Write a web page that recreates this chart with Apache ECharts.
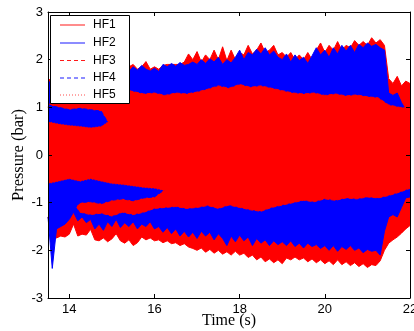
<!DOCTYPE html>
<html>
<head>
<meta charset="utf-8">
<script src="https://cdn.jsdelivr.net/npm/echarts@6/dist/echarts.min.js"></script>
<style>
html,body{margin:0;padding:0;background:#fff;}
#chart{width:414px;height:331px;}
</style>
</head>
<body>
<div id="chart"></div>
<script>
// ---- data (envelopes of each pressure trace) ----
const seriesNames = ['HF1', 'HF2', 'HF3', 'HF4', 'HF5'];
const xTickValues = [14, 16, 18, 20, 22];
const yTickValues = [-3, -2, -1, 0, 1, 2, 3];

// sample times: fine grid (0.1 s) and coarse grid (0.25 s), 13.5 s .. 22 s
const fineStart = 13.5, fineStep = 0.1, fineCount = 86;
const coarseStart = 13.5, coarseStep = 0.25, coarseCount = 35;

const hf1Upper = [1.6,1.55,1.5,1.5,1.45, 1.5,1.45,1.5,1.5,1.55, 1.55,1.6,1.6,1.65,1.6, 1.7,1.7,1.75,1.8,1.85,
  1.9,1.8,1.85,1.96,1.8, 1.85,1.8,1.88,1.9,1.9, 1.9,1.9,1.95,2.12,2.0, 2.17,1.95,2.1,2.0,2.2,
  2.0,2.27,1.98,2.2,2.0, 2.15,2.1,2.3,2.12,2.2, 2.35,2.15,2.2,2.3,2.1, 2.15,2.05,2.15,2.0,2.1,
  2.0,2.15,2.0,2.2,2.35, 2.15,2.3,2.2,2.38,2.2, 2.3,2.25,2.4,2.3,2.38, 2.3,2.46,2.35,2.42,2.3,
  1.6,1.5,1.65,1.45,1.55,1.5];
const hf1Lower = [-1.3,-1.72,-1.74,-1.7,-1.72, -1.66,-1.45,-1.7,-1.66,-1.68, -1.56,-1.78,-1.8,-1.74,-1.82, -1.76,-1.65,-1.8,-1.85,-1.78,
  -1.9,-1.84,-1.72,-1.78,-1.74, -1.8,-1.78,-1.84,-1.8,-1.86, -1.84,-1.9,-1.86,-1.93,-1.96, -2.0,-1.95,-2.04,-1.98,-2.06,
  -2.0,-2.08,-2.03,-2.1,-2.02, -2.1,-2.06,-2.15,-2.1,-2.2, -2.14,-2.24,-2.18,-2.26,-2.2, -2.28,-2.16,-2.2,-2.14,-2.2,
  -2.16,-2.24,-2.18,-2.26,-2.2, -2.28,-2.22,-2.3,-2.2,-2.3, -2.24,-2.32,-2.26,-2.34,-2.28, -2.36,-2.3,-2.32,-2.22,-2.0,
  -1.85,-1.78,-1.72,-1.64,-1.55,-1.48];
const hf2Upper = [1.55,1.5,1.35,1.4,1.3, 1.35,1.3,1.4,1.35,1.45, 1.4,1.5,1.45,1.55,1.5, 1.6,1.65,1.6,1.7,1.75,
  1.85,1.78,1.88,1.8,1.76, 1.82,1.75,1.9,1.85,1.92, 1.86,1.94,1.88,1.9,1.95, 1.9,2.0,1.92,2.02,1.95,
  2.05,1.9,2.0,1.93,2.05, 2.2,2.0,2.15,2.1,2.22, 2.12,2.25,2.1,2.18,2.05, 2.0,2.12,1.95,2.1,1.98,
  2.05,1.92,2.08,2.25,2.1, 2.2,2.05,2.25,2.12,2.3, 2.18,2.3,2.15,2.32,2.25, 2.35,2.28,2.32,2.25,2.2,
  1.3,1.25,1.3,1.1,0.95,0.9];
const hf2Lower = [-1.3,-2.38,-1.55,-1.5,-1.45, -1.35,-1.2,-1.38,-1.3,-1.42, -1.35,-1.55,-1.45,-1.58,-1.4, -1.5,-1.35,-1.52,-1.42,-1.5,
  -1.4,-1.55,-1.45,-1.5,-1.4, -1.55,-1.5,-1.62,-1.52,-1.65, -1.55,-1.7,-1.6,-1.72,-1.62, -1.75,-1.6,-1.7,-1.62,-1.78,
  -1.65,-1.75,-1.9,-1.7,-1.82, -1.68,-1.8,-1.72,-1.9,-1.75, -1.85,-1.78,-1.9,-1.8,-1.88, -1.82,-1.9,-1.8,-1.92,-1.85,
  -1.95,-1.85,-1.92,-1.88,-1.96, -1.9,-2.0,-1.9,-2.02,-1.92, -1.98,-1.9,-2.0,-1.95,-2.05, -1.98,-2.02,-2.0,-2.1,-1.6,
  -1.3,-1.25,-1.3,-1.1,-0.9,-0.88];
const hf3Upper = [1.0,1.45,1.4,1.45,1.4, 1.45,1.4,1.38,1.33,1.28, 1.3,1.25,1.3,1.28,1.32, 1.38,1.45,1.4,1.48,1.42,
  1.45,1.4,1.35,1.3,1.28, 1.3,1.25,1.28,1.24,1.26, 1.22,1.2,1.05,1.0,0.98];
const hf3Lower = [-0.8,-0.75,-0.85,-1.2,-1.25, -1.22,-1.28,-1.2,-1.25,-1.2, -1.12,-1.1,-1.08,-1.12,-1.1, -1.06,-1.12,-1.05,-1.1,-1.15,
  -1.18,-1.1,-1.05,-1.0,-0.95, -0.98,-0.92,-0.95,-0.9,-0.92, -0.88,-0.9,-0.85,-0.78,-0.7];
const hf4Upper = [1.05,1.0,0.95,0.98,0.95, 0.92,0.55,0.6,0.62,0.65, 0.68,0.7,0.7,0.72,0.7, 0.72,0.7,0.72,0.7,0.72,
  0.7,0.72,0.7,0.72,0.7, 0.72,0.7,0.72,0.7,0.7, 0.7,0.68,0.65,0.62,0.6];
const hf4Lower = [-1.3,-1.35,-1.25,-1.0,-0.98, -1.02,-0.95,-0.92,-0.96,-0.9, -0.88,-0.72,-0.7,-0.7,-0.72, -0.7,-0.72,-0.7,-0.72,-0.7,
  -0.72,-0.7,-0.72,-0.7,-0.7, -0.7,-0.7,-0.7,-0.7,-0.7, -0.7,-0.7,-0.68,-0.65,-0.6];
const hf5Upper = [0.7,0.65,0.62,0.6,0.57, 0.6,0.75,0.8,0.82,0.85, 0.88,0.9,0.92,0.9,0.94, 0.9,0.92,0.95,0.9,0.94,
  0.92,0.9,0.94,0.9,0.92, 0.9,0.88,0.92,0.9,0.9, 0.88,0.88,0.85,0.8,0.75];
const hf5Lower = [-0.6,-0.55,-0.5,-0.55,-0.5, -0.55,-0.6,-0.62,-0.65,-0.68, -0.7,-0.75,-0.8,-0.82,-0.8, -0.84,-0.8,-0.82,-0.85,-0.8,
  -0.84,-0.8,-0.82,-0.8,-0.78, -0.8,-0.78,-0.8,-0.76,-0.78, -0.76,-0.75,-0.72,-0.7,-0.65];

// ---- build ----
const timeFine = Array.from({length: fineCount}, (_, i) => +(fineStart + fineStep * i).toFixed(3));
const timeCoarse = Array.from({length: coarseCount}, (_, i) => +(coarseStart + coarseStep * i).toFixed(3));

const RED = '#ff0000', BLUE = '#0000ff';
const SANS = 'Liberation Sans', SERIF = 'Liberation Serif';
const seriesColors = [RED, BLUE, RED, BLUE, RED];
const seriesDash = ['solid', 'solid', 'dashed', 'dashed', [1, 2]];
const legendDash = [null, null, [4, 3], [4, 3], [1, 2]];

let zCounter = 1;
function band(name, time, upper, lower, color, dash) {
  const z = zCounter++;
  const base = {
    name: name, type: 'line', symbol: 'none', showSymbol: false,
    xAxisIndex: 0, yAxisIndex: 0, z: z,
    lineStyle: {color: color, width: 1, type: dash},
    itemStyle: {color: color},
    areaStyle: {color: color, opacity: 1},
    emphasis: {disabled: true},
    silent: true, animation: false
  };
  return [
    Object.assign({}, base, {data: time.map((t, i) => [t, upper[i]])}),
    Object.assign({}, base, {data: time.map((t, i) => [t, lower[i]])})
  ];
}

const series = [].concat(
  band(seriesNames[0], timeFine, hf1Upper, hf1Lower, seriesColors[0], seriesDash[0]),
  band(seriesNames[1], timeFine, hf2Upper, hf2Lower, seriesColors[1], seriesDash[1]),
  band(seriesNames[2], timeCoarse, hf3Upper, hf3Lower, seriesColors[2], seriesDash[2]),
  band(seriesNames[3], timeCoarse, hf4Upper, hf4Lower, seriesColors[3], seriesDash[3]),
  band(seriesNames[4], timeCoarse, hf5Upper, hf5Lower, seriesColors[4], seriesDash[4])
);

// legend box (MATLAB style), drawn as graphic elements
const legendBox = {x: 50.5, y: 15.5, w: 79, h: 88};
const legendRows = [25, 43, 60.5, 78, 95];
const legendGraphics = [{
  type: 'rect', z: 100, silent: true,
  shape: {x: legendBox.x, y: legendBox.y, width: legendBox.w, height: legendBox.h},
  style: {fill: '#fff', stroke: '#000', lineWidth: 1}
}];
seriesNames.forEach((n, i) => {
  const y = legendRows[i];
  legendGraphics.push({
    type: 'line', z: 101, silent: true,
    shape: {x1: 60, y1: y, x2: 85, y2: y},
    style: {stroke: seriesColors[i], lineWidth: 1, lineDash: legendDash[i], opacity: i === 4 ? 0.7 : 0.9}
  });
  legendGraphics.push({
    type: 'text', z: 101, silent: true, x: 93, y: y,
    style: {text: n, fontFamily: SANS, fontSize: 12, fill: '#000', verticalAlign: 'middle', align: 'left'}
  });
});

const axisLine = {show: true, onZero: false, lineStyle: {color: '#000', width: 1}};
const tick = (vals) => ({show: true, inside: true, length: 4, customValues: vals, lineStyle: {color: '#000', width: 1}});

const chart = echarts.init(document.getElementById('chart'), null, {renderer: 'canvas'});
chart.setOption({
  animation: false,
  backgroundColor: '#fff',
  grid: {left: 48, right: 4, top: 12, bottom: 33, containLabel: false, outerBoundsMode: 'none'},
  graphic: legendGraphics,
  xAxis: [
    {type: 'value', min: 13.5, max: 22, position: 'bottom', z: 20,
     axisLine: axisLine, axisTick: tick(xTickValues),
     axisLabel: {customValues: xTickValues, color: '#000', fontFamily: SANS, fontSize: 13, margin: 5},
     splitLine: {show: false},
     name: 'Time (s)', nameLocation: 'middle', nameGap: 15, nameMoveOverlap: false,
     nameTextStyle: {fontFamily: SERIF, fontSize: 16, color: '#000'}},
    {type: 'value', min: 13.5, max: 22, position: 'top', z: 20,
     axisLine: axisLine, axisTick: tick(xTickValues),
     axisLabel: {show: false}, splitLine: {show: false}}
  ],
  yAxis: [
    {type: 'value', min: -3, max: 3, position: 'left', z: 20,
     axisLine: axisLine, axisTick: tick(yTickValues),
     axisLabel: {customValues: yTickValues, color: '#000', fontFamily: SANS, fontSize: 13, margin: 5},
     splitLine: {show: false},
     name: 'Pressure (bar)', nameLocation: 'middle', nameGap: 21, nameMoveOverlap: false,
     nameTextStyle: {fontFamily: SERIF, fontSize: 16.5, color: '#000'}},
    {type: 'value', min: -3, max: 3, position: 'right', z: 20,
     axisLine: axisLine, axisTick: tick(yTickValues),
     axisLabel: {show: false}, splitLine: {show: false}}
  ],
  series: series
});
</script>
</body>
</html>
